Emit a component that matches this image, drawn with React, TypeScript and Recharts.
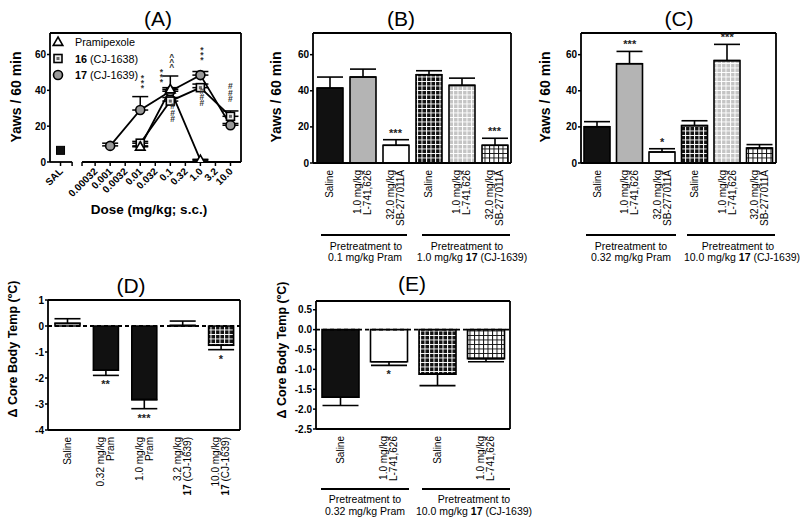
import React from 'react';
import {
  ComposedChart, Line, Bar, Cell, XAxis, YAxis, ErrorBar, Scatter, ReferenceLine
} from 'recharts';

const FONT = '"Liberation Sans", Arial, Helvetica, sans-serif';
const INK = '#000';
const AXW = 1.8;

// ---------- (A) dose-response, yawns / 60 min
const doseLabels = ['0.00032', '0.001', '0.0032', '0.01', '0.032', '0.1', '0.32', '1.0', '3.2', '10.0'];
const salineLabel = 'SAL';
const salineYawns = 6.5;

const pramDoses = ['0.01', '0.1', '1.0'];
const pramYawns = [8.5, 40.5, 1];
const pramSem = [0.5, 7.5, 0.5];

const cj1638Doses = ['0.01', '0.1', '1.0', '10.0'];
const cj1638Yawns = [10.5, 34, 41.5, 25.5];
const cj1638Sem = [1, 2, 2, 3];

const cj1639Doses = ['0.001', '0.01', '0.1', '1.0', '10.0'];
const cj1639Yawns = [9, 29, 39.5, 48.5, 20.5];
const cj1639Sem = [1.5, 7.5, 2, 2, 1];

// significance marks in (A): x in dose-index units, y in yawns
const sigA = [
  { x: 3.15, y: 45.4, text: '***' },
  { x: 4.4, y: 48.8, text: '***' },
  { x: 5.1, y: 57, text: '^^^' },
  { x: 7.1, y: 61, text: '***' },
  { x: 5.15, y: 28.6, text: '###' },
  { x: 7.1, y: 37.3, text: '###' },
  { x: 9.0, y: 39.8, text: '###' },
];

// ---------- (B) and (C) antagonist pretreatments, yawns / 60 min
const treatLabelsBC = [
  ['Saline'], ['1.0 mg/kg', 'L-741,626'], ['32.0 mg/kg', 'SB-277011A'],
  ['Saline'], ['1.0 mg/kg', 'L-741,626'], ['32.0 mg/kg', 'SB-277011A'],
];
const yawnsB = [41.5, 47.6, 9.8, 48.9, 43, 9.8];
const semB = [6.1, 4.4, 3.1, 2.2, 4, 3.9];
const sigB = ['', '', '***', '', '', '***'];

const yawnsC = [20.1, 55, 6.1, 20.7, 56.7, 8.3];
const semC = [2.8, 6.8, 1.8, 2.7, 9, 1.9];
const sigC = ['', '***', '*', '', '***', ''];

// ---------- (D) and (E) change in core body temperature
const tempLabelsD = [
  ['Saline'], ['0.32 mg/kg', 'Pram'], ['1.0 mg/kg', 'Pram'],
  ['3.2 mg/kg', '|17| (CJ-1639)'], ['10.0 mg/kg', '|17| (CJ-1639)'],
];
const tempD = [0.1, -1.7, -2.83, 0.02, -0.74];
const semD = [0.18, 0.2, 0.35, 0.17, 0.17];
const sigD = ['', '**', '***', '', '*'];

const tempLabelsE = [['Saline'], ['1.0 mg/kg', 'L-741,626'], ['Saline'], ['1.0 mg/kg', 'L-741,626']];
const tempE = [-1.7, -0.81, -1.12, -0.73];
const semE = [0.21, 0.09, 0.29, 0.08];
const sigE = ['', '*', '', ''];

// bar fills (style only)
const fillsBC = ['#111', '#b4b4b4', '#fff', 'url(#bw)', 'url(#gw)', 'url(#wb)'];
const fillsD = ['#fff', '#111', '#111', '#888', 'url(#bw)'];
const fillsE = ['#111', '#fff', 'url(#bw)', 'url(#wb)'];

// ---------- helpers
const SAL_X = -2.3;
const BREAK_L = -1.53;
const BREAK_R = -0.87;

const doseRows = (doses: string[], means: number[], sems: number[]) =>
  doses.map((d, i) => ({ x: doseLabels.indexOf(d), y: means[i], err: [0, sems[i]] }));

const barRows = (means: number[], sems: number[]) =>
  means.map((m, i) => ({ x: i + 1, y: m, err: m >= 0 ? [0, sems[i]] : [sems[i], 0] }));

const sigRows = (means: number[], sems: number[], sig: string[]) =>
  means
    .map((m, i) => ({ x: i + 1, y: m >= 0 ? m + sems[i] : m - sems[i], text: sig[i], below: m < 0 }))
    .filter((r) => r.text);

const rich = (ln: string) =>
  ln.split('|').map((s, i) => (
    <tspan key={i} fontWeight={i % 2 ? 'bold' : 'normal'}>{s}</tspan>
  ));

function Patterns({ size = 4.5 }: { size?: number }) {
  const s = size;
  const grid = (id: string, bg: string, fg: string, w = 1) => (
    <pattern id={id} width={s} height={s} patternUnits="userSpaceOnUse">
      <rect width={s} height={s} fill={bg} />
      <path d={`M0 ${w / 2} H${s} M${w / 2} 0 V${s}`} stroke={fg} strokeWidth={w} />
    </pattern>
  );
  return (
    <defs>
      {grid('bw', '#111', '#fff')}
      {grid('gw', '#c4c4c4', '#fff')}
      {grid('wb', '#fff', '#111')}
    </defs>
  );
}

function CatTick(p: any) {
  const { x, y, payload, labels } = p;
  const lines: string[] = labels[Math.round(payload.value) - 1] || [];
  const fs = 10;
  const lh = 10;
  const off0 = -((lines.length - 1) * lh) / 2 + fs * 0.36;
  return (
    <g transform={`translate(${x},${y + 7}) rotate(-90)`}>
      {lines.map((ln, i) => (
        <text key={i} x={0} y={off0 + i * lh} textAnchor="end" fontSize={fs} fontFamily={FONT} fill={INK}>
          {rich(ln)}
        </text>
      ))}
    </g>
  );
}

function DoseTick(p: any) {
  const { x, y, payload } = p;
  const v = payload.value;
  let label = '';
  if (Math.abs(v - SAL_X) < 1e-6) label = salineLabel;
  else if (Number.isInteger(v) && doseLabels[v]) label = doseLabels[v];
  if (!label) return <g />;
  const ax = x + 3;
  const ay = y + 5;
  return (
    <text x={ax} y={ay} transform={`rotate(-45 ${ax} ${ay})`} textAnchor="end"
      fontSize={10} fontWeight="bold" fontFamily={FONT} fill={INK}>
      {label}
    </text>
  );
}

const yTick = { fontSize: 10, fontWeight: 'bold', fill: INK, fontFamily: FONT };
const tickLine = { stroke: INK, strokeWidth: 1.5 };
const axisLine = { stroke: INK, strokeWidth: AXW };

const triDot = (p: any) => {
  const { cx, cy, index } = p;
  if (cx == null || cy == null) return <g key={index} />;
  return <path key={index} d={`M${cx},${cy - 5}L${cx + 4.8},${cy + 3.4}L${cx - 4.8},${cy + 3.4}Z`}
    fill="#fff" stroke={INK} strokeWidth={1.6} />;
};
const sqDot = (p: any) => {
  const { cx, cy, index } = p;
  if (cx == null || cy == null) return <g key={index} />;
  return (
    <g key={index}>
      <rect x={cx - 4} y={cy - 4} width={8} height={8} fill="#eee" stroke={INK} strokeWidth={1.6} />
      <rect x={cx - 1.5} y={cy - 1.5} width={3} height={3} fill="#666" />
    </g>
  );
};
const circDot = (p: any) => {
  const { cx, cy, index } = p;
  if (cx == null || cy == null) return <g key={index} />;
  return <circle key={index} cx={cx} cy={cy} r={4.5} fill="#999" stroke={INK} strokeWidth={1.6} />;
};

// vertically stacked marks, set as one upright vertical text run
const stackShape = (p: any) => {
  const { cx, cy, payload } = p;
  const hash = payload.text[0] === '#';
  const fs = 8.5;
  return (
    <text x={cx} y={cy} textAnchor="middle" fontSize={fs} fontWeight="bold" fontFamily={FONT} fill="#333"
      style={{ writingMode: 'vertical-rl', textOrientation: 'upright', letterSpacing: hash ? -3.8 : -4.8 } as any}>
      {payload.text}
    </text>
  );
};

const sigShape = (p: any) => {
  const { cx, cy, payload } = p;
  return (
    <text x={cx} y={payload.below ? cy + 13 : cy - 3} textAnchor="middle" fontSize={11}
      fontWeight="bold" fontFamily={FONT} fill="#222">{payload.text}</text>
  );
};

const salShape = (p: any) => (
  <rect x={p.cx - 4} y={p.cy - 4} width={8} height={8} fill="#111" stroke={INK} strokeWidth={1} />
);

// ---------- overlay text
function Txt({ x, y, size, bold, rot, children }: any) {
  return (
    <div style={{
      position: 'absolute', left: x, top: y, whiteSpace: 'nowrap', lineHeight: 1,
      transform: `translate(-50%,-50%)${rot ? ' rotate(-90deg)' : ''}`,
      fontSize: size, fontWeight: bold ? 'bold' : 'normal', color: INK,
    }}>{children}</div>
  );
}
function HLine({ x1, x2, y }: any) {
  return <div style={{ position: 'absolute', left: x1, top: y - 1, width: x2 - x1, height: 2, background: INK }} />;
}

function PanelA() {
  const ticks = [SAL_X, BREAK_L, BREAK_R, ...doseLabels.map((_, i) => i)];
  return (
    <div style={{ position: 'absolute', left: 0, top: 0 }}>
      <ComposedChart width={251} height={262} margin={{ top: 33, right: 10, left: 0, bottom: 0 }}>
        <XAxis type="number" dataKey="x" domain={[-3, 9.7]} allowDataOverflow ticks={ticks} interval={0}
          axisLine={false} tickLine={tickLine} tickSize={4} tickMargin={1} height={100} tick={DoseTick} />
        <YAxis type="number" domain={[0, 72]} allowDataOverflow ticks={[0, 20, 40, 60]} width={50}
          axisLine={axisLine} tickLine={tickLine} tickSize={3} tickMargin={1} tick={yTick} />
        <ReferenceLine segment={[{ x: -3, y: 0 }, { x: BREAK_L, y: 0 }]} stroke={INK} strokeWidth={AXW} />
        <ReferenceLine segment={[{ x: BREAK_R, y: 0 }, { x: 9.7, y: 0 }]} stroke={INK} strokeWidth={AXW} />
        <ReferenceLine y={72} stroke={INK} strokeWidth={AXW} />
        <ReferenceLine x={9.7} stroke={INK} strokeWidth={AXW} />
        <Line data={doseRows(cj1639Doses, cj1639Yawns, cj1639Sem)} dataKey="y" stroke={INK} strokeWidth={1.8}
          dot={circDot} isAnimationActive={false}>
          <ErrorBar dataKey="err" direction="y" width={8} stroke={INK} strokeWidth={1.5} isAnimationActive={false} />
        </Line>
        <Line data={doseRows(cj1638Doses, cj1638Yawns, cj1638Sem)} dataKey="y" stroke={INK} strokeWidth={1.8}
          dot={sqDot} isAnimationActive={false}>
          <ErrorBar dataKey="err" direction="y" width={8} stroke={INK} strokeWidth={1.5} isAnimationActive={false} />
        </Line>
        <Line data={doseRows(pramDoses, pramYawns, pramSem)} dataKey="y" stroke={INK} strokeWidth={1.8}
          dot={triDot} isAnimationActive={false}>
          <ErrorBar dataKey="err" direction="y" width={8} stroke={INK} strokeWidth={1.5} isAnimationActive={false} />
        </Line>
        <Scatter data={[{ x: SAL_X, y: salineYawns }]} dataKey="y" shape={salShape} isAnimationActive={false} />
        <Scatter data={sigA} dataKey="y" shape={stackShape} isAnimationActive={false} />
      </ComposedChart>
    </div>
  );
}

function BarPanel({ left, top, width, height, mt, xh, domainY, ticksY, fmt, labels, means, sems, sig, fills,
  barSize, cap, zeroLine, patSize }: any) {
  const n = means.length;
  return (
    <div style={{ position: 'absolute', left, top }}>
      <ComposedChart width={width} height={height} data={barRows(means, sems)}
        margin={{ top: mt, right: 5, left: 0, bottom: 0 }}>
        <Patterns size={patSize} />
        <XAxis type="number" dataKey="x" domain={[0.5, n + 0.5]} allowDataOverflow
          ticks={means.map((_: number, i: number) => i + 1)} interval={0} axisLine={axisLine} tickLine={false}
          tickSize={0} tickMargin={0} height={xh} tick={(p: any) => <CatTick {...p} labels={labels} />} />
        <YAxis type="number" domain={domainY} allowDataOverflow ticks={ticksY} width={40} axisLine={axisLine}
          tickLine={tickLine} tickSize={3} tickMargin={1} tick={yTick} tickFormatter={fmt} />
        {zeroLine && <ReferenceLine y={0} stroke={INK} strokeWidth={1.8} strokeDasharray="4 3" />}
        <Bar dataKey="y" barSize={barSize} stroke={INK} strokeWidth={1.6} isAnimationActive={false}>
          {means.map((_: number, i: number) => <Cell key={i} fill={fills[i]} />)}
          <ErrorBar dataKey="err" direction="y" width={cap} stroke={INK} strokeWidth={1.6} isAnimationActive={false} />
        </Bar>
        <Scatter data={sigRows(means, sems, sig)} dataKey="y" shape={sigShape} isAnimationActive={false} />
        <ReferenceLine y={domainY[1]} stroke={INK} strokeWidth={AXW} />
        <ReferenceLine x={n + 0.5} stroke={INK} strokeWidth={AXW} />
      </ComposedChart>
    </div>
  );
}

function Legend() {
  const rows = [
    { shape: triDot, text: 'Pramipexole' },
    { shape: sqDot, text: '|16| (CJ-1638)' },
    { shape: circDot, text: '|17| (CJ-1639)' },
  ];
  return (
    <svg style={{ position: 'absolute', left: 50, top: 33 }} width={130} height={52}>
      {rows.map((r, i) => (
        <g key={i}>
          {r.shape({ cx: 8, cy: 9 + i * 16.5, index: i })}
          <text x={25} y={9 + i * 16.5 + 4} fontSize={10.8} fontFamily={FONT} fill={INK}>{rich(r.text)}</text>
        </g>
      ))}
    </svg>
  );
}

export default function App() {
  return (
    <div style={{ position: 'absolute', left: 0, top: 0, width: 800, height: 522, background: '#fff',
      fontFamily: FONT, overflow: 'hidden' }}>
      <PanelA />
      <Legend />
      <BarPanel left={273} top={0} width={243} height={243} mt={33} xh={80} domainY={[0, 72]}
        ticksY={[0, 20, 40, 60]} labels={treatLabelsBC} means={yawnsB} sems={semB} sig={sigB}
        fills={fillsBC} barSize={26} cap={13} patSize={4.5} />
      <BarPanel left={541} top={0} width={240} height={243} mt={33} xh={80} domainY={[0, 72]}
        ticksY={[0, 20, 40, 60]} labels={treatLabelsBC} means={yawnsC} sems={semC} sig={sigC}
        fills={fillsBC} barSize={26} cap={13} patSize={4.5} />
      <BarPanel left={8} top={280} width={237} height={240} mt={20} xh={90} domainY={[-4, 1]}
        ticksY={[1, 0, -1, -2, -3, -4]} labels={tempLabelsD} means={tempD} sems={semD} sig={sigD}
        fills={fillsD} barSize={25} cap={13} zeroLine patSize={5.5} />
      <BarPanel left={276} top={281} width={239} height={228} mt={20} xh={80} domainY={[-2.5, 0.72]}
        ticksY={[0.5, 0, -0.5, -1, -1.5, -2, -2.5]} fmt={(v: number) => v.toFixed(1)} labels={tempLabelsE}
        means={tempE} sems={semE} sig={sigE} fills={fillsE} barSize={37} cap={18} zeroLine patSize={5} />

      {/* panel titles */}
      <Txt x={158} y={18} size={21}>(A)</Txt>
      <Txt x={401} y={18} size={21}>(B)</Txt>
      <Txt x={679} y={18} size={21}>(C)</Txt>
      <Txt x={131} y={285} size={21}>(D)</Txt>
      <Txt x={412} y={283} size={21}>(E)</Txt>

      {/* axis titles */}
      <Txt x={16} y={97} size={14} bold rot>Yaws / 60 min</Txt>
      <Txt x={276} y={97} size={14} bold rot>Yaws / 60 min</Txt>
      <Txt x={545} y={97} size={14} bold rot>Yaws / 60 min</Txt>
      <Txt x={149} y={210} size={13.5} bold>Dose (mg/kg; s.c.)</Txt>
      <Txt x={13} y={349} size={12.5} bold rot>Δ Core Body Temp (ºC)</Txt>
      <Txt x={282} y={350} size={12.5} bold rot>Δ Core Body Temp (ºC)</Txt>

      {/* pretreatment groups */}
      <HLine x1={321} x2={407} y={235} />
      <HLine x1={422} x2={510} y={235} />
      <Txt x={366} y={246} size={10.5}>Pretreatment to</Txt>
      <Txt x={365} y={257} size={10.5}>0.1 mg/kg Pram</Txt>
      <Txt x={467} y={246} size={10.5}>Pretreatment to</Txt>
      <Txt x={472} y={257} size={10.5}>1.0 mg/kg <b>17</b> (CJ-1639)</Txt>

      <HLine x1={586} x2={676} y={235} />
      <HLine x1={687} x2={775} y={235} />
      <Txt x={631} y={246} size={10.5}>Pretreatment to</Txt>
      <Txt x={631} y={257} size={10.5}>0.32 mg/kg Pram</Txt>
      <Txt x={738} y={246} size={10.5}>Pretreatment to</Txt>
      <Txt x={742} y={257} size={10.5}>10.0 mg/kg <b>17</b> (CJ-1639)</Txt>

      <HLine x1={321} x2={409} y={489} />
      <HLine x1={422} x2={510} y={489} />
      <Txt x={365} y={499} size={10.5}>Pretreatment to</Txt>
      <Txt x={365} y={511} size={10.5}>0.32 mg/kg Pram</Txt>
      <Txt x={474} y={499} size={10.5}>Pretreatment to</Txt>
      <Txt x={474} y={511} size={10.5}>10.0 mg/kg <b>17</b> (CJ-1639)</Txt>
    </div>
  );
}
